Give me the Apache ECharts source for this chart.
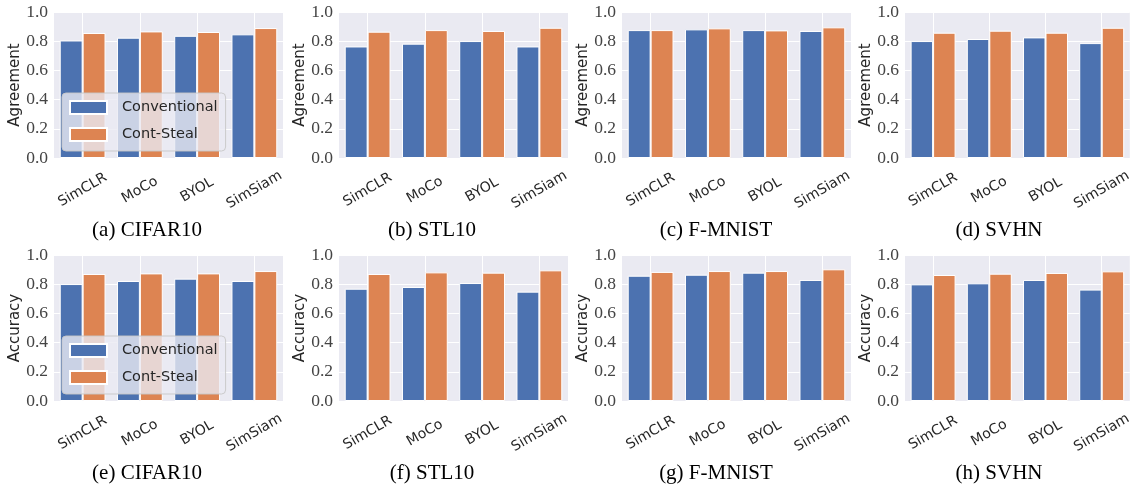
<!DOCTYPE html>
<html>
<head>
<meta charset="utf-8">
<script src="https://cdn.jsdelivr.net/npm/echarts@6/dist/echarts.min.js"></script>
<style>
  html, body { margin: 0; padding: 0; background: #ffffff; }
  #chart { width: 1134px; height: 487px; }
</style>
</head>
<body>
<div id="chart"></div>
<script>
// Surrogate models on the x axis
const categories = ['SimCLR', 'MoCo', 'BYOL', 'SimSiam'];
const datasets = ['CIFAR10', 'STL10', 'F-MNIST', 'SVHN'];
const seriesNames = ['Conventional', 'Cont-Steal'];
const yTicks = [0.0, 0.2, 0.4, 0.6, 0.8, 1.0];

// Top row: agreement, one list per dataset (CIFAR10, STL10, F-MNIST, SVHN)
const agreementConventional = [
  [0.805, 0.824, 0.837, 0.847],
  [0.764, 0.783, 0.801, 0.764],
  [0.876, 0.881, 0.876, 0.870],
  [0.801, 0.815, 0.826, 0.787]
];
const agreementContSteal = [
  [0.856, 0.867, 0.863, 0.890],
  [0.865, 0.876, 0.870, 0.892],
  [0.876, 0.888, 0.874, 0.895],
  [0.858, 0.872, 0.858, 0.892]
];

// Bottom row: accuracy
const accuracyConventional = [
  [0.801, 0.822, 0.838, 0.822],
  [0.769, 0.781, 0.808, 0.749],
  [0.858, 0.865, 0.879, 0.829],
  [0.799, 0.806, 0.829, 0.763]
];
const accuracyContSteal = [
  [0.870, 0.874, 0.874, 0.890],
  [0.870, 0.881, 0.879, 0.895],
  [0.884, 0.890, 0.890, 0.902],
  [0.863, 0.872, 0.877, 0.888]
];

const rows = [
  { yName: 'Agreement', conv: agreementConventional, cont: agreementContSteal, letters: ['a', 'b', 'c', 'd'] },
  { yName: 'Accuracy', conv: accuracyConventional, cont: accuracyContSteal, letters: ['e', 'f', 'g', 'h'] }
];

// Layout of the 2 x 4 panel grid
const panelLefts = [54, 339, 622, 905];
const panelWidths = [229, 229, 229, 228];
const rowTops = [12, 255];
const panelHeight = 146;
const captionCenters = [147, 432, 716, 999];
const captionY = [230, 473];

const blue = '#4C72B0';
const orange = '#DD8452';
const sans = '"DejaVu Sans", sans-serif';
const serif = '"Liberation Serif", "DejaVu Serif", serif';

const grid = [], xAxis = [], yAxis = [], series = [], graphic = [];

rows.forEach((row, r) => {
  datasets.forEach((ds, c) => {
    const idx = r * 4 + c;
    grid.push({
      left: panelLefts[c], top: rowTops[r], width: panelWidths[c], height: panelHeight,
      show: true, backgroundColor: '#EAEAF2', borderWidth: 0
    });
    xAxis.push({
      type: 'category', gridIndex: idx, data: categories,
      axisLine: { show: false }, axisTick: { show: false },
      splitLine: { show: true, alignWithLabel: true, lineStyle: { color: '#ffffff', width: 1 } },
      axisLabel: {
        rotate: 30, align: 'center', verticalAlign: 'middle', margin: 32,
        fontFamily: sans, fontSize: 14, color: '#262626', interval: 0
      }
    });
    yAxis.push({
      type: 'value', gridIndex: idx, min: 0, max: 1, interval: 0.2,
      name: row.yName, nameLocation: 'middle', nameGap: 31,
      nameTextStyle: { fontFamily: sans, fontSize: 15, color: '#262626' },
      axisLine: { show: false }, axisTick: { show: false },
      splitLine: { show: true, lineStyle: { color: '#ffffff', width: 1 } },
      axisLabel: {
        margin: 6, fontFamily: serif, fontSize: 17.5, color: '#444444',
        formatter: v => yTicks.find(t => Math.abs(t - v) < 1e-9).toFixed(1)
      }
    });
    series.push({
      name: seriesNames[0], type: 'bar', xAxisIndex: idx, yAxisIndex: idx,
      data: row.conv[c], barGap: '0%', barCategoryGap: '20%',
      itemStyle: { color: blue, borderColor: '#ffffff', borderWidth: 1 }
    });
    series.push({
      name: seriesNames[1], type: 'bar', xAxisIndex: idx, yAxisIndex: idx,
      data: row.cont[c], barGap: '0%', barCategoryGap: '20%',
      itemStyle: { color: orange, borderColor: '#ffffff', borderWidth: 1 }
    });
    graphic.push({
      type: 'text', x: captionCenters[c], y: captionY[r],
      style: {
        text: '(' + row.letters[c] + ') ' + ds,
        fill: '#000000', font: '21px ' + serif,
        textAlign: 'center', textVerticalAlign: 'middle'
      }
    });
  });
});

// Legend boxes sit inside the CIFAR10 panels of both rows
const legend = rowTops.map(top => ({
  data: seriesNames, orient: 'vertical', left: 62, top: top + 81,
  padding: [7, 8, 9, 7], itemGap: 12, itemWidth: 37, itemHeight: 13,
  icon: 'rect', z: 10,
  backgroundColor: 'rgba(234,234,242,0.8)', borderColor: 'rgba(200,200,200,0.9)',
  borderWidth: 1, borderRadius: 4,
  selectedMode: false,
  textStyle: { fontFamily: sans, fontSize: 14.5, color: '#262626', padding: [0, 0, 0, 10], width: 90 }
}));

const chart = echarts.init(document.getElementById('chart'), null, { renderer: 'canvas' });
chart.setOption({
  animation: false,
  backgroundColor: '#ffffff',
  grid, xAxis, yAxis, series, legend, graphic
});
</script>
</body>
</html>
